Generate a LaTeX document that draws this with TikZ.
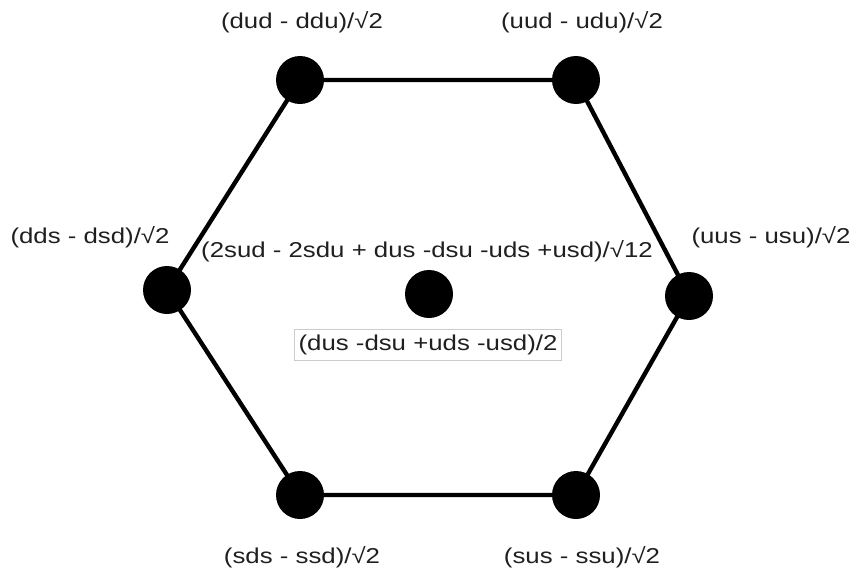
\documentclass[tikz,border=0pt]{standalone}
\usepackage{fontspec}
\setmainfont{Liberation Sans}[FakeStretch=1.2]
\begin{document}
\begin{tikzpicture}[x=1pt,y=-1pt,
  dot/.style={circle,fill=black,minimum size=48pt,inner sep=0pt},
  lbl/.style={font=\fontsize{21.5}{24}\selectfont,text=black!88,inner sep=0pt},
  edge/.style={line width=4.4pt,line join=round}]
\useasboundingbox (0,0) rectangle (851,573);
\node[dot] (tl) at (300,80) {};
\node[dot] (tr) at (576,80) {};
\node[dot] (r) at (689,296) {};
\node[dot] (br) at (576,495) {};
\node[dot] (bl) at (300,495) {};
\node[dot] (l) at (167,290) {};
\node[dot] (c) at (429,294) {};
\draw[edge] (tl.center) -- (tr.center) -- (r.center) -- (br.center) -- (bl.center) -- (l.center) -- cycle;
\node[lbl] (ltl) at (302,22) {(dud - ddu)/√2};
\node[lbl] (ltr) at (582,22) {(uud - udu)/√2};
\node[lbl] (ll) at (90,237) {(dds - dsd)/√2};
\node[lbl] (lc) at (427,251) {(2sud - 2sdu + dus -dsu -uds +usd)/√12};
\node[lbl] (lr) at (771,237) {(uus - usu)/√2};
\node[lbl,draw=black!20,line width=1pt,inner xsep=4pt,inner ysep=5pt] (lbox) at (428,345) {(dus -dsu +uds -usd)/2};
\node[lbl] (lbl) at (302,557) {(sds - ssd)/√2};
\node[lbl] (lbr) at (582,557) {(sus - ssu)/√2};
\end{tikzpicture}
\end{document}
